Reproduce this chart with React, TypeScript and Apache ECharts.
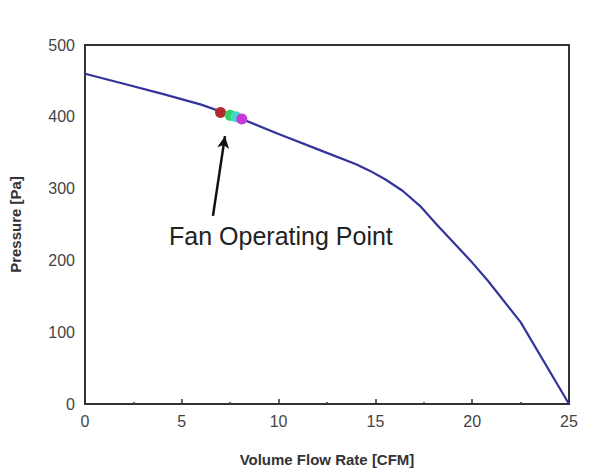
import React, { useEffect, useRef } from "react";
import * as echarts from "echarts";

// Fan curve
const flowRate = [0, 2, 4, 6, 8, 10, 12, 14, 14.7, 15.5, 16.4, 17.3, 18.2, 19.9, 20.8, 22.5, 25];
const pressure = [460, 446, 432, 417, 398, 376, 355, 334, 325, 313, 297, 276, 249, 200, 172, 114, 0];

// Operating points (coloured dots)
const opFlow = [7.0, 7.5, 7.8, 8.1];
const opPressure = [406, 402, 400, 397];
const opColors = ["#b52a2c", "#30d466", "#42d8cc", "#c83ad8"];

// Annotation
const annotationText = "Fan Operating Point";
const annotationAt = [10.12, 234];
const arrowFrom = [6.61, 262];
const arrowTo = [7.23, 373];

const xTicks = { min: 0, max: 25, interval: 5 };
const yTicks = { min: 0, max: 500, interval: 100 };

export default function App() {
  const ref = useRef<HTMLDivElement>(null);
  useEffect(() => {
    if (!ref.current) return;
    const chart = echarts.init(ref.current, undefined, { renderer: "svg" });
    const font = "'Liberation Sans', Arial, sans-serif";
    const curve = flowRate.map((x, i) => [x, pressure[i]]);
    const opSeries = opFlow.map((x, i) => ({
      type: "scatter",
      data: [[x, opPressure[i]]],
      symbolSize: 11,
      itemStyle: { color: opColors[i], opacity: 1 },
      z: 5 + i,
    }));
    chart.setOption({
      animation: false,
      backgroundColor: "#ffffff",
      grid: {
        left: 85,
        right: 27,
        top: 45,
        bottom: 64,
        show: true,
        borderColor: "#333333",
        borderWidth: 2,
        backgroundColor: "#ffffff",
      },
      xAxis: {
        type: "value",
        min: xTicks.min,
        max: xTicks.max,
        interval: xTicks.interval,
        name: "Volume Flow Rate [CFM]",
        nameLocation: "middle",
        nameGap: 48,
        nameTextStyle: { fontFamily: font, fontWeight: "bold", fontSize: 15, color: "#333" },
        axisLine: { show: true, lineStyle: { color: "#333", width: 2 } },
        axisTick: { show: true, inside: true, length: 5, lineStyle: { color: "#333", width: 1.5 } },
        minorTick: { show: true, splitNumber: 2, length: 2, lineStyle: { color: "#333", width: 1.5 } },
        splitLine: { show: false },
        axisLabel: { fontFamily: font, fontSize: 16, color: "#444", margin: 9 },
      },
      yAxis: {
        type: "value",
        min: yTicks.min,
        max: yTicks.max,
        interval: yTicks.interval,
        name: "Pressure [Pa]",
        nameLocation: "middle",
        nameGap: 62,
        nameTextStyle: { fontFamily: font, fontWeight: "bold", fontSize: 15, color: "#333" },
        axisLine: { show: true, lineStyle: { color: "#333", width: 2 } },
        axisTick: { show: false },
        splitLine: { show: false },
        axisLabel: { fontFamily: font, fontSize: 16, color: "#444", margin: 10, padding: [0, 0, 10, 0] },
      },
      series: [
        {
          type: "line",
          data: curve,
          showSymbol: false,
          lineStyle: { color: "#33339a", width: 2.2 },
          z: 3,
          markLine: {
            silent: true,
            symbol: ["none", "arrow"],
            symbolSize: [9, 12],
            lineStyle: { color: "#111", width: 2.5, type: "solid" },
            label: { show: false },
            data: [[{ coord: arrowFrom }, { coord: arrowTo }]],
          },
          markPoint: {
            silent: true,
            symbol: "rect",
            symbolSize: 1,
            itemStyle: { color: "rgba(0,0,0,0)" },
            label: {
              show: true,
              position: "inside",
              formatter: annotationText,
              fontFamily: font,
              fontSize: 25,
              color: "#222",
            },
            data: [{ coord: annotationAt }],
          },
        },
        ...opSeries,
      ],
    });
    return () => chart.dispose();
  }, []);
  return (
    <div
      ref={ref}
      style={{ position: "absolute", left: 0, top: 0, width: 596, height: 472 }}
    />
  );
}
